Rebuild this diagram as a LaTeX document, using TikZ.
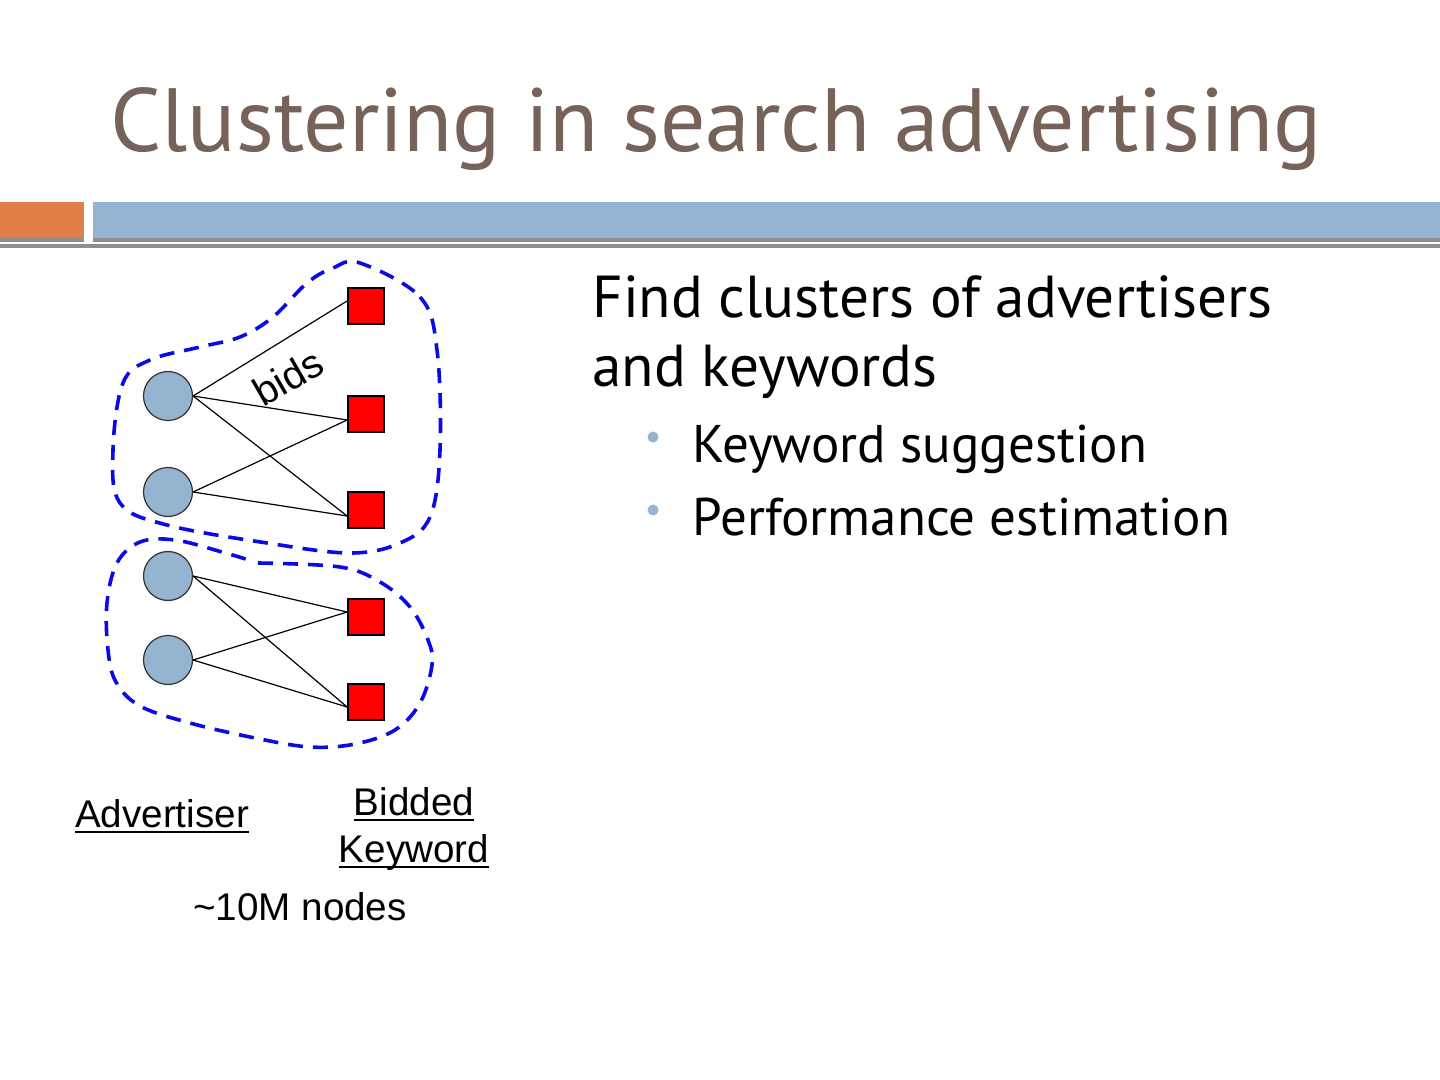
\documentclass[tikz,border=0pt]{standalone}
\usepackage{fontspec}
\setmainfont{PT Sans}
\newfontfamily\arialf{Liberation Sans}
\newcommand\myul[1]{\setbox0\hbox{#1}\rlap{\rule[-3.2pt]{\wd0}{1pt}}\box0}
\definecolor{titlecol}{RGB}{118,98,88}
\definecolor{orangebar}{RGB}{224,128,72}
\definecolor{bluebar}{RGB}{148,180,209}
\definecolor{shadowgray}{RGB}{142,142,142}
\definecolor{advblue}{RGB}{148,180,208}
\definecolor{dashblue}{RGB}{10,10,230}
\tikzset{
  adv/.style={circle, minimum size=24.5pt, inner sep=0pt, fill=advblue, draw=black!80, line width=0.6pt},
  kw/.style={rectangle, minimum size=18pt, inner sep=0pt, fill=red, draw=black, line width=0.9pt},
  bidedge/.style={line width=0.6pt, black},
  cluster/.style={dashblue, line width=1.8pt, dash pattern=on 7.5pt off 5pt},
  lbl/.style={inner sep=0pt, font=\arialf\fontsize{19.3}{23.5}\selectfont},
  body/.style={inner sep=0pt, anchor=base west, font=\fontsize{29.6}{34}\selectfont},
  sub/.style={inner sep=0pt, anchor=base west, font=\fontsize{26.5}{32}\selectfont},
  bulletdot/.style={circle, fill=advblue, inner sep=0pt, minimum size=5.5pt}
}
\begin{document}
\begin{tikzpicture}[x=0.5pt,y=-0.5pt]
\useasboundingbox (0,0) rectangle (1440,1080);
\fill[white] (0,0) rectangle (1440,1080);
% header bars
\fill[shadowgray] (0,206) rectangle (84,242);
\fill[orangebar] (0,202) rectangle (84,238);
\fill[shadowgray] (93,206) rectangle (1440,242);
\fill[bluebar] (93,202) rectangle (1440,238);
\fill[shadowgray] (0,244) rectangle (1440,248.5);
% title
\node[inner sep=0pt, anchor=base west, text=titlecol, font=\fontsize{44.9}{52}\selectfont] (title) at (110,152) {Clustering in search advertising};
% right text
\node[body] (t1) at (592,318) {Find clusters of advertisers};
\node[body] (t2) at (592,387) {and keywords};
\node[bulletdot] (b1) at (653,437) {};
\node[sub] (s1) at (692,462) {Keyword suggestion};
\node[bulletdot] (b2) at (653,510) {};
\node[sub] (s2) at (692,535) {Performance estimation};
% clusters
\draw[cluster] plot[smooth cycle, tension=0.6] coordinates {
 (360,263) (420,297) (437,350) (440,450) (430,517) (400,543) (350,553)
 (267,543) (167,525) (120,503) (113,450) (123,383) (150,360) (200,347)
 (240,337) (273,317) (307,283) (333,268)};
\draw[cluster] plot[smooth, tension=0.6] coordinates {
 (258,563) (340,567) (380,582) (410,607) (428,640) (432,665) (420,703)
 (395,730) (355,744) (310,747) (255,738) (190,723) (140,706) (116,682)
 (108,650) (107,603) (117,563) (140,542) (175,540) (222,552) (252,561)};
% nodes
\node[adv] (a1) at (168,396) {};
\node[adv] (a2) at (168,492) {};
\node[adv] (a3) at (168,576) {};
\node[adv] (a4) at (168,660) {};
\node[kw] (k1) at (366,306) {};
\node[kw] (k2) at (366,414) {};
\node[kw] (k3) at (366,510) {};
\node[kw] (k4) at (366,617) {};
\node[kw] (k5) at (366,702) {};
% edges
\draw[bidedge] (a1.east) -- ([yshift=2.5pt]k1.west);
\draw[bidedge] (a1.east) -- ([yshift=-3pt]k2.west);
\draw[bidedge] (a1.east) -- ([yshift=-3pt]k3.west);
\draw[bidedge] (a2.east) -- ([yshift=-3pt]k2.west);
\draw[bidedge] (a2.east) -- ([yshift=-3pt]k3.west);
\draw[bidedge] (a3.east) -- ([yshift=2.5pt]k4.west);
\draw[bidedge] (a3.east) -- ([yshift=-2.5pt]k5.west);
\draw[bidedge] (a4.east) -- ([yshift=2.5pt]k4.west);
\draw[bidedge] (a4.east) -- ([yshift=-2.5pt]k5.west);
% labels
\node[lbl, rotate=30, font=\arialf\fontsize{20}{24}\selectfont] (bids) at (288,377) {bids};
\node[lbl, anchor=base] (advl) at (162,827) {\myul{Advertiser}};
\node[lbl, anchor=base, align=center] (kwl) at (414,862) {\myul{Bidded}\\\myul{Keyword}};
\node[lbl, anchor=base] (cnt) at (300,920) {\textasciitilde 10M nodes};
\end{tikzpicture}
\end{document}
